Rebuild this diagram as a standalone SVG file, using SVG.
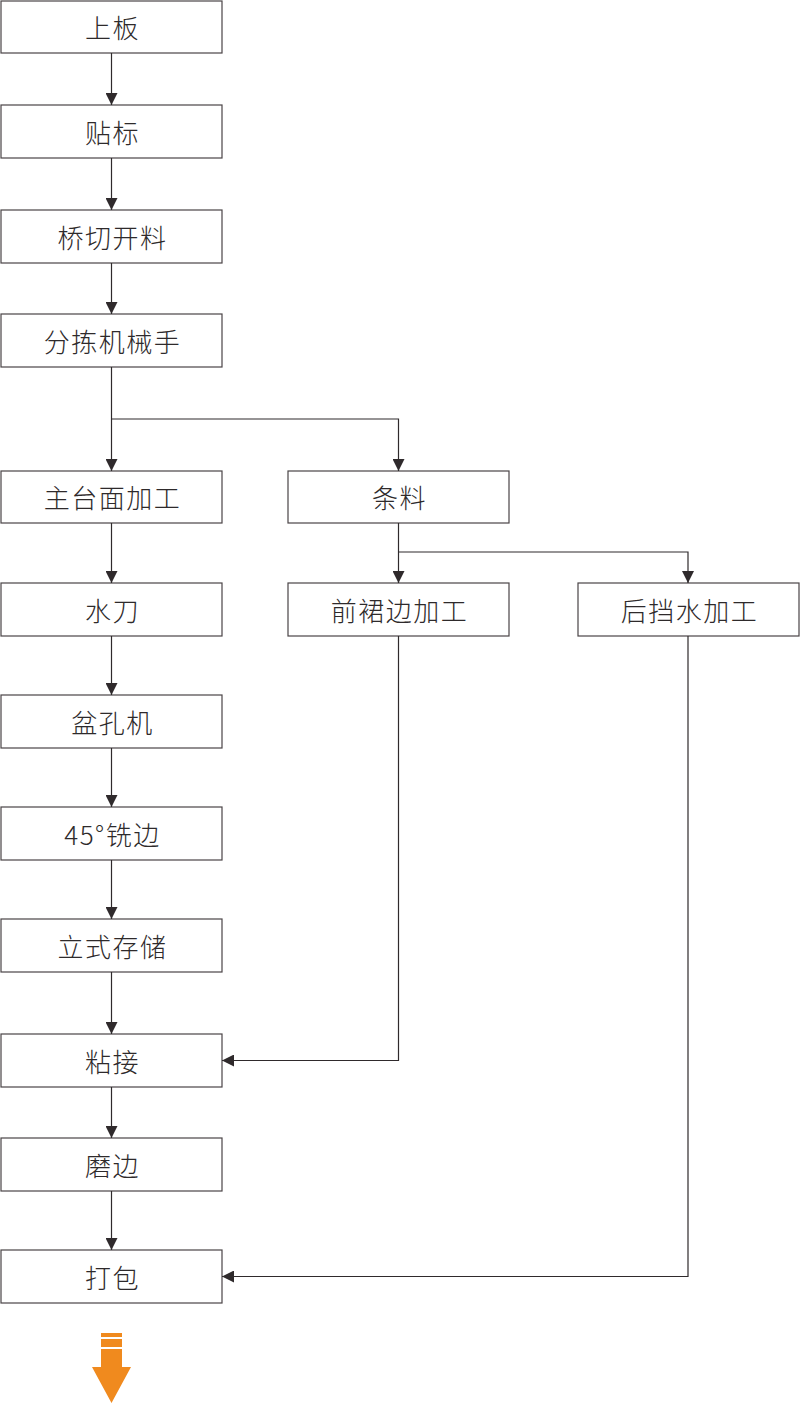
<svg xmlns="http://www.w3.org/2000/svg" width="800" height="1403" viewBox="0 0 800 1403">
<style>
.box{fill:#fff;stroke:#4a4446;stroke-width:1.2}
.lbl{font-family:"Noto Sans CJK SC","Noto Sans",sans-serif;font-size:26px;font-weight:300;fill:#2e2a2b;text-anchor:middle;dominant-baseline:central;letter-spacing:1.5px}
.ln{fill:none;stroke:#2f2a2c;stroke-width:1.2}
</style>
<defs>
<marker id="ah" viewBox="0 0 12 12" refX="12" refY="6" markerWidth="12" markerHeight="12" markerUnits="userSpaceOnUse" orient="auto">
<path d="M0,0 L12,6 L0,12 z" fill="#2f2a2c"/>
</marker>
</defs>
<rect width="800" height="1403" fill="#fff"/>
<g id="n1"><rect class="box" x="1" y="1" width="221" height="52"/><text class="lbl" x="112.5" y="26.5">上板</text></g>
<g id="n2"><rect class="box" x="1" y="105" width="221" height="53"/><text class="lbl" x="112.5" y="131">贴标</text></g>
<g id="n3"><rect class="box" x="1" y="210" width="221" height="53"/><text class="lbl" x="112.5" y="236">桥切开料</text></g>
<g id="n4"><rect class="box" x="1" y="314" width="221" height="53"/><text class="lbl" x="112.5" y="340">分拣机械手</text></g>
<g id="n5"><rect class="box" x="1" y="471" width="221" height="52"/><text class="lbl" x="112.5" y="496.5">主台面加工</text></g>
<g id="n6"><rect class="box" x="1" y="583" width="221" height="53"/><text class="lbl" x="112.5" y="609">水刀</text></g>
<g id="n7"><rect class="box" x="1" y="695" width="221" height="53"/><text class="lbl" x="112.5" y="721">盆孔机</text></g>
<g id="n8"><rect class="box" x="1" y="807" width="221" height="53"/><text class="lbl" x="112.5" y="833">45°铣边</text></g>
<g id="n9"><rect class="box" x="1" y="919" width="221" height="53"/><text class="lbl" x="112.5" y="945">立式存储</text></g>
<g id="n10"><rect class="box" x="1" y="1034" width="221" height="53"/><text class="lbl" x="112.5" y="1060">粘接</text></g>
<g id="n11"><rect class="box" x="1" y="1138" width="221" height="53"/><text class="lbl" x="112.5" y="1164">磨边</text></g>
<g id="n12"><rect class="box" x="1" y="1250" width="221" height="53"/><text class="lbl" x="112.5" y="1276">打包</text></g>
<g id="n13"><rect class="box" x="288" y="471" width="221" height="52"/><text class="lbl" x="399.5" y="496.5">条料</text></g>
<g id="n14"><rect class="box" x="288" y="583" width="221" height="53"/><text class="lbl" x="399.5" y="609">前裙边加工</text></g>
<g id="n15"><rect class="box" x="578" y="583" width="221" height="53"/><text class="lbl" x="689.5" y="609">后挡水加工</text></g>
<g id="connectors">
<path class="ln" d="M111.5,53 V105" marker-end="url(#ah)"/>
<path class="ln" d="M111.5,158 V210" marker-end="url(#ah)"/>
<path class="ln" d="M111.5,263 V314" marker-end="url(#ah)"/>
<path class="ln" d="M111.5,367 V471" marker-end="url(#ah)"/>
<path class="ln" d="M111.5,419 H398.5 V471" marker-end="url(#ah)"/>
<path class="ln" d="M111.5,523 V583" marker-end="url(#ah)"/>
<path class="ln" d="M111.5,636 V695" marker-end="url(#ah)"/>
<path class="ln" d="M111.5,748 V807" marker-end="url(#ah)"/>
<path class="ln" d="M111.5,860 V919" marker-end="url(#ah)"/>
<path class="ln" d="M111.5,972 V1034" marker-end="url(#ah)"/>
<path class="ln" d="M111.5,1087 V1138" marker-end="url(#ah)"/>
<path class="ln" d="M111.5,1191 V1250" marker-end="url(#ah)"/>
<path class="ln" d="M398.5,523 V583" marker-end="url(#ah)"/>
<path class="ln" d="M398.5,552 H688 V583" marker-end="url(#ah)"/>
<path class="ln" d="M398.5,636 V1060.5 H222" marker-end="url(#ah)"/>
<path class="ln" d="M688,636 V1276.5 H222" marker-end="url(#ah)"/>
</g>
<g id="orange-arrow" fill="#f08a1e">
<rect x="101" y="1333" width="21" height="4"/>
<rect x="101" y="1339" width="21" height="8"/>
<path d="M101,1349 H122 V1367 H131 L111.5,1403 L92,1367 H101 Z"/>
</g>
</svg>
